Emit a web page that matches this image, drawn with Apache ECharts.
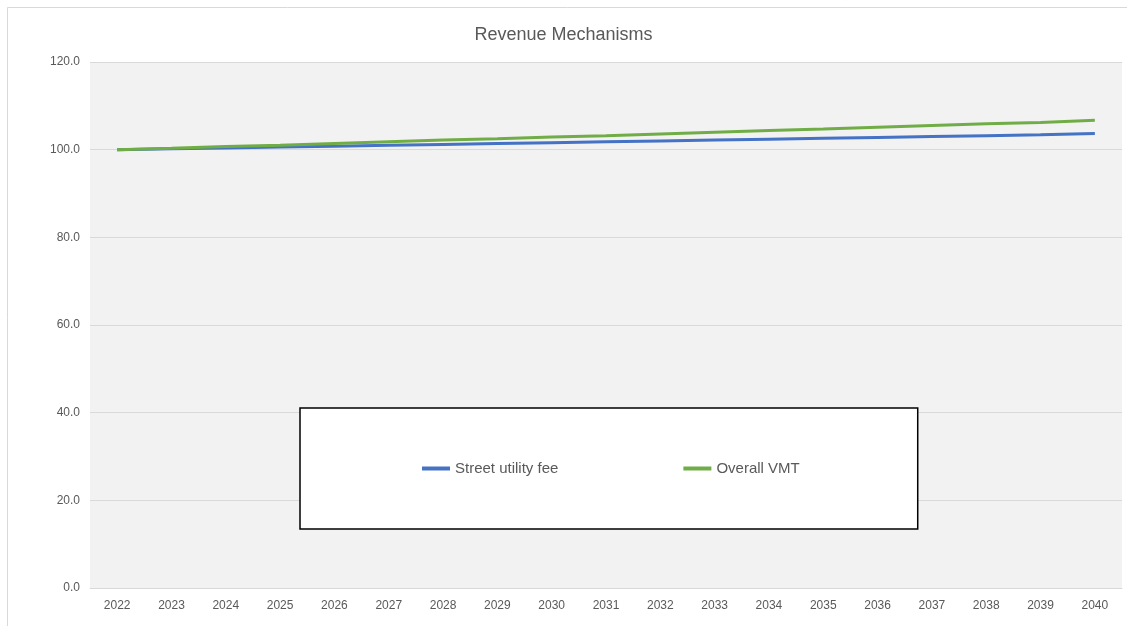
<!DOCTYPE html>
<html>
<head>
<meta charset="utf-8">
<title>Revenue Mechanisms</title>
<script src="https://cdn.jsdelivr.net/npm/echarts@6/dist/echarts.min.js"></script>
<style>
  html, body { margin: 0; padding: 0; background: #fff; }
  #chart { width: 1127px; height: 626px; }
</style>
</head>
<body>
<div id="chart"></div>
<script>
// categories (years)
const years = ['2022', '2023', '2024', '2025', '2026', '2027', '2028', '2029', '2030', '2031',
  '2032', '2033', '2034', '2035', '2036', '2037', '2038', '2039', '2040']

// series values (index, 2022 = 100)
const streetUtilityFee = [100.0, 100.2, 100.4, 100.6, 100.8, 101.0, 101.2, 101.4, 101.6, 101.8,
  102.0, 102.2, 102.4, 102.6, 102.8, 103.0, 103.2, 103.4, 103.7]
const overallVMT = [100.0, 100.3, 100.7, 101.0, 101.4, 101.8, 102.2, 102.5, 102.9, 103.2,
  103.6, 104.0, 104.4, 104.7, 105.1, 105.5, 105.9, 106.2, 106.7]

const seriesNames = ['Street utility fee', 'Overall VMT']

const textColor = '#595959'
const font = 'Liberation Sans, Arial, sans-serif'

const chart = echarts.init(document.getElementById('chart'))

const option = {
  backgroundColor: '#ffffff',
  animation: false,
  textStyle: { fontFamily: font },
  title: {
    text: 'Revenue Mechanisms',
    left: 'center',
    top: 21,
    textStyle: { color: textColor, fontSize: 18, fontWeight: 'normal', fontFamily: font }
  },
  graphic: [
    {
      // outer chart border
      type: 'rect',
      shape: { x: 7.5, y: 7.5, width: 1140, height: 640 },
      style: { fill: null, stroke: '#d9d9d9', lineWidth: 1 },
      z: -10
    }
  ],
  grid: {
    left: 90,
    right: 5,
    top: 62,
    bottom: 38,
    show: true,
    backgroundColor: '#f2f2f2',
    borderWidth: 0
  },
  legend: {
    data: seriesNames,
    left: 300,
    top: 408,
    orient: 'horizontal',
    backgroundColor: '#ffffff',
    borderColor: '#000000',
    borderWidth: 1.5,
    borderRadius: 0,
    padding: [53, 118, 53, 122],
    itemGap: 125,
    itemWidth: 28,
    itemHeight: 4,
    icon: 'rect',
    textStyle: { color: textColor, fontSize: 15, fontFamily: font }
  },
  xAxis: {
    type: 'category',
    data: years,
    boundaryGap: true,
    axisLine: { show: true, lineStyle: { color: '#d9d9d9', width: 1 } },
    axisTick: { show: false },
    axisLabel: { color: textColor, fontSize: 12, margin: 12 },
    splitLine: { show: false }
  },
  yAxis: {
    type: 'value',
    min: 0,
    max: 120,
    interval: 20,
    axisLine: { show: false },
    axisTick: { show: false },
    axisLabel: {
      color: textColor,
      fontSize: 12,
      margin: 10,
      formatter: (value) => value.toFixed(1)
    },
    splitLine: { lineStyle: { color: '#d9d9d9', width: 1 } }
  },
  series: [
    {
      name: seriesNames[0],
      type: 'line',
      data: streetUtilityFee,
      showSymbol: false,
      symbol: 'none',
      lineStyle: { color: '#4472c4', width: 3 },
      itemStyle: { color: '#4472c4' }
    },
    {
      name: seriesNames[1],
      type: 'line',
      data: overallVMT,
      showSymbol: false,
      symbol: 'none',
      lineStyle: { color: '#70ad47', width: 3 },
      itemStyle: { color: '#70ad47' }
    }
  ]
}

chart.setOption(option)
window.addEventListener('resize', () => chart.resize())
</script>
</body>
</html>
